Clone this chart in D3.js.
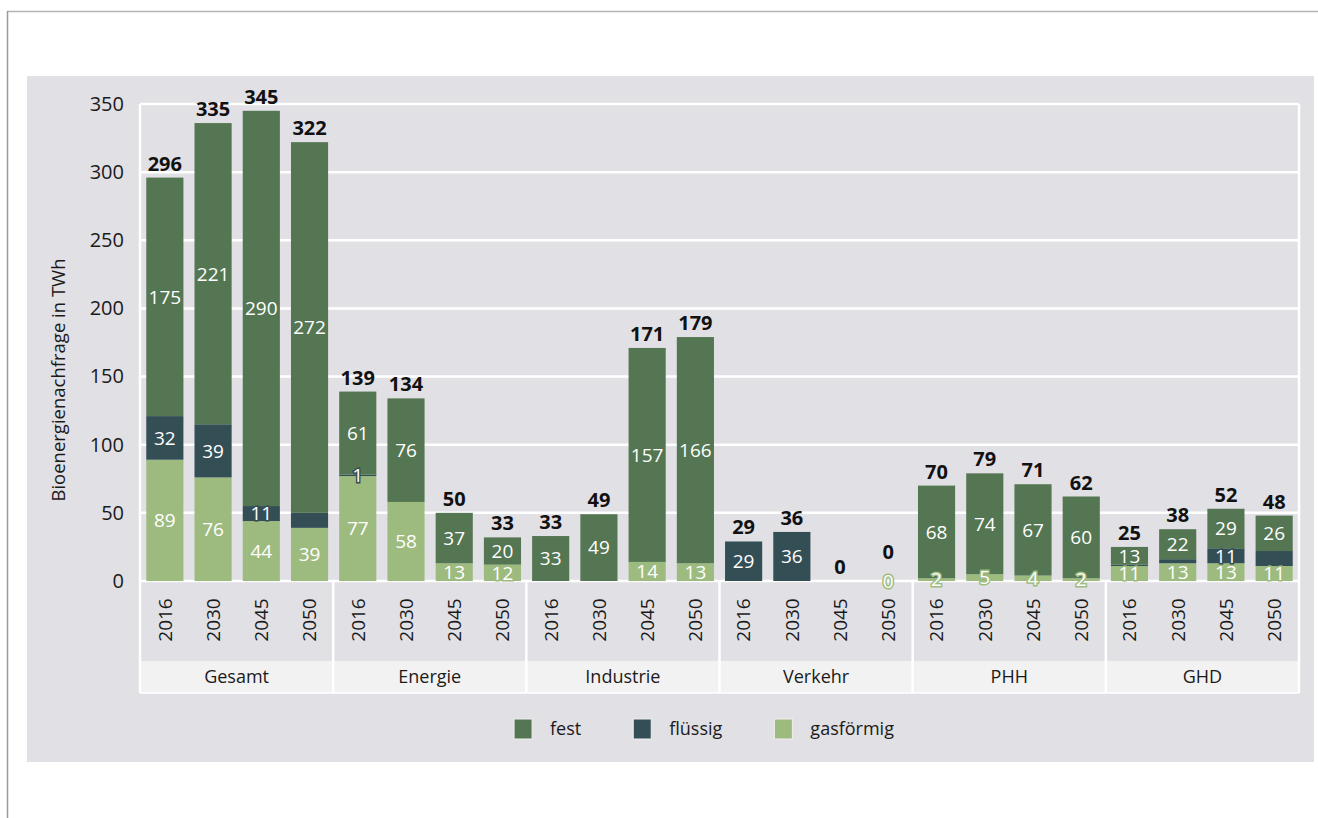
<!DOCTYPE html>
<html>
<head>
<meta charset="utf-8">
<script src="https://cdn.jsdelivr.net/npm/d3@7"></script>
<style>
  html, body { margin: 0; padding: 0; background: #ffffff; }
  svg { display: block; }
  text { font-family: "Open Sans", "Noto Sans", sans-serif; }
</style>
</head>
<body>
<svg id="chart" width="1318" height="818"></svg>
<script>
// Bioenergy demand by sector and year, stacked by fuel state (TWh)
const groups = ["Gesamt", "Energie", "Industrie", "Verkehr", "PHH", "GHD"];
const years = ["2016", "2030", "2045", "2050"];
const seriesNames = ["fest", "flüssig", "gasförmig"];

// one entry per bar: group-major, years inner
const fest      = [175, 221, 290, 272,  61, 76, 37, 20,  33, 49, 157, 166,   0,  0, 0, 0,  68, 74, 67, 60,  13, 22, 29, 26];
const fluessig  = [ 32,  39,  11,  11,   1,  0,  0,  0,   0,  0,   0,   0,  29, 36, 0, 0,   0,  0,  0,  0,   1,  3, 11, 11];
const gasfoermig= [ 89,  76,  44,  39,  77, 58, 13, 12,   0,  0,  14,  13,   0,  0, 0, 0,   2,  5,  4,  2,  11, 13, 13, 11];
const totals    = [296, 335, 345, 322, 139, 134, 50, 33, 33, 49, 171, 179, 29, 36, 0, 0, 70, 79, 71, 62, 25, 38, 52, 48];

// data labels printed inside the segments (null = not printed)
const festLabels = ["175","221","290","272","61","76","37","20","33","49","157","166",null,null,null,null,"68","74","67","60","13","22","29","26"];
const fluessigLabels = ["32","39","11",null,"1",null,null,null,null,null,null,null,"29","36",null,null,null,null,null,null,null,null,"11",null];
const gasLabels = ["89","76","44","39","77","58","13","12",null,null,"14","13",null,null,null,"0","2","5","4","2","11","13","13","11"];

const yTicks = [0, 50, 100, 150, 200, 250, 300, 350];
const yTitle = "Bioenergienachfrage in TWh";

const colors = { "fest": "#547652", "flüssig": "#344e55", "gasförmig": "#9ebb7f" };
const panelFill = "#e1e0e5";
const nameRowFill = "#f3f2f2";

const svg = d3.select("#chart");

// outer frame lines
svg.append("line").attr("x1", 7).attr("x2", 1318).attr("y1", 11.5).attr("y2", 11.5)
  .attr("stroke", "#b4b4b4").attr("stroke-width", 1.5);
svg.append("line").attr("x1", 7.5).attr("x2", 7.5).attr("y1", 11).attr("y2", 818)
  .attr("stroke", "#9a9a9a").attr("stroke-width", 1.5);

// grey panel
svg.append("rect").attr("x", 27).attr("y", 76).attr("width", 1287).attr("height", 686)
  .attr("fill", panelFill);

const plot = { left: 140, right: 1299, top: 104, bottom: 581 };
const axisBottom = 693, nameRowTop = 661;

const barKeys = d3.range(fest.length);
const x = d3.scaleBand().domain(barKeys).range([plot.left, plot.right]).paddingInner(0.23).paddingOuter(0.13);
const y = d3.scaleLinear().domain([0, 350]).range([plot.bottom, plot.top]);
const groupX = d3.scaleBand().domain(groups).range([plot.left, plot.right]);

// category name row
svg.append("rect").attr("x", plot.left).attr("y", nameRowTop)
  .attr("width", plot.right - plot.left).attr("height", axisBottom - nameRowTop)
  .attr("fill", nameRowFill);

// horizontal gridlines
svg.append("g").selectAll("line").data(yTicks).join("line")
  .attr("x1", plot.left).attr("x2", plot.right)
  .attr("y1", d => y(d)).attr("y2", d => y(d))
  .attr("stroke", "#ffffff").attr("stroke-width", 2.5);

// vertical frame and group separators
const sepX = groups.map(g => groupX(g)).concat([plot.right]);
svg.append("g").selectAll("line").data(sepX).join("line")
  .attr("x1", d => d).attr("x2", d => d)
  .attr("y1", (d, i) => (i === 0 || i === sepX.length - 1) ? plot.top : plot.bottom)
  .attr("y2", axisBottom)
  .attr("stroke", "#ffffff").attr("stroke-width", 2.5);
svg.append("line").attr("x1", plot.left).attr("x2", plot.right)
  .attr("y1", axisBottom).attr("y2", axisBottom).attr("stroke", "#ffffff").attr("stroke-width", 1.5);

// y axis
const yAxis = d3.axisLeft(y).tickValues(yTicks).tickSize(0).tickPadding(0);
const yG = svg.append("g").attr("transform", `translate(${plot.left - 16},0)`).call(yAxis);
yG.select(".domain").remove();
yG.selectAll("text").attr("font-size", 20).attr("fill", "#1a1a1a")
  .attr("font-family", "'Open Sans', sans-serif");

svg.append("text")
  .attr("transform", `translate(65,380) rotate(-90)`)
  .attr("text-anchor", "middle").attr("font-size", 18.5).attr("fill", "#1a1a1a")
  .text(yTitle);

// stacked bars
const rows = barKeys.map(i => ({ "fest": fest[i], "flüssig": fluessig[i], "gasförmig": gasfoermig[i], i }));
const stack = d3.stack().keys(["gasförmig", "flüssig", "fest"]);
const stacked = stack(rows);
const labelSets = { "fest": festLabels, "flüssig": fluessigLabels, "gasförmig": gasLabels };

const layers = svg.append("g").selectAll("g").data(stacked).join("g")
  .attr("fill", d => colors[d.key]);
layers.selectAll("rect").data(d => d).join("rect")
  .attr("x", d => x(d.data.i))
  .attr("width", x.bandwidth())
  .attr("y", d => y(d[1]))
  .attr("height", d => y(d[0]) - y(d[1]));

// segment labels
const segLabels = [];
stacked.forEach(layer => {
  layer.forEach(d => {
    const t = labelSets[layer.key][d.data.i];
    if (t !== null) segLabels.push({ key: layer.key, i: d.data.i, text: t, y0: d[0], y1: d[1] });
  });
});
svg.append("g").selectAll("text").data(segLabels).join("text")
  .attr("x", d => x(d.i) + x.bandwidth() / 2)
  .attr("y", d => (y(d.y0) + y(d.y1)) / 2)
  .attr("dy", "0.36em")
  .attr("text-anchor", "middle")
  .attr("font-size", 19)
  .attr("fill", "#ffffff")
  .attr("stroke", d => colors[d.key])
  .attr("stroke-width", 3)
  .attr("paint-order", "stroke")
  .text(d => d.text);

// totals above the stacks
svg.append("g").selectAll("text").data(barKeys).join("text")
  .attr("x", i => x(i) + x.bandwidth() / 2)
  .attr("y", i => {
    const top = y(fest[i] + fluessig[i] + gasfoermig[i]);
    const lifted = totals[i] === 0 && gasLabels[i] !== null ? 15 : 0;
    return top - 7 - lifted;
  })
  .attr("text-anchor", "middle")
  .attr("font-size", 20)
  .attr("font-weight", 700)
  .attr("fill", "#111111")
  .text(i => totals[i]);

// year labels (rotated)
svg.append("g").selectAll("text").data(barKeys).join("text")
  .attr("transform", i => `translate(${x(i) + x.bandwidth() / 2},${(plot.bottom + nameRowTop) / 2 - 1}) rotate(-90)`)
  .attr("text-anchor", "middle")
  .attr("dy", "0.36em")
  .attr("font-size", 19)
  .attr("fill", "#1a1a1a")
  .text(i => years[i % years.length]);

// group names
svg.append("g").selectAll("text").data(groups).join("text")
  .attr("x", g => groupX(g) + groupX.bandwidth() / 2)
  .attr("y", (nameRowTop + axisBottom) / 2)
  .attr("dy", "0.36em")
  .attr("text-anchor", "middle")
  .attr("font-size", 18)
  .attr("fill", "#1a1a1a")
  .text(g => g);

// legend
const legend = svg.append("g");
const items = legend.selectAll("g").data(seriesNames).join("g");
items.append("rect").attr("width", 18).attr("height", 20).attr("y", -10)
  .attr("fill", d => colors[d]).attr("stroke", "#f0f0f0").attr("stroke-width", 1);
items.append("text").attr("x", 36).attr("dy", "0.36em").attr("font-size", 18)
  .attr("fill", "#1a1a1a").text(d => d);
let cursor = 0;
const gap = 52;
const widths = [];
items.each(function () {
  const w = 36 + this.querySelector("text").getComputedTextLength();
  widths.push(w);
});
const totalW = d3.sum(widths) + gap * (widths.length - 1);
const start = 704 - totalW / 2;
items.attr("transform", (d, k) => {
  const tx = start + cursor;
  cursor += widths[k] + gap;
  return `translate(${tx},729)`;
});
</script>
</body>
</html>
